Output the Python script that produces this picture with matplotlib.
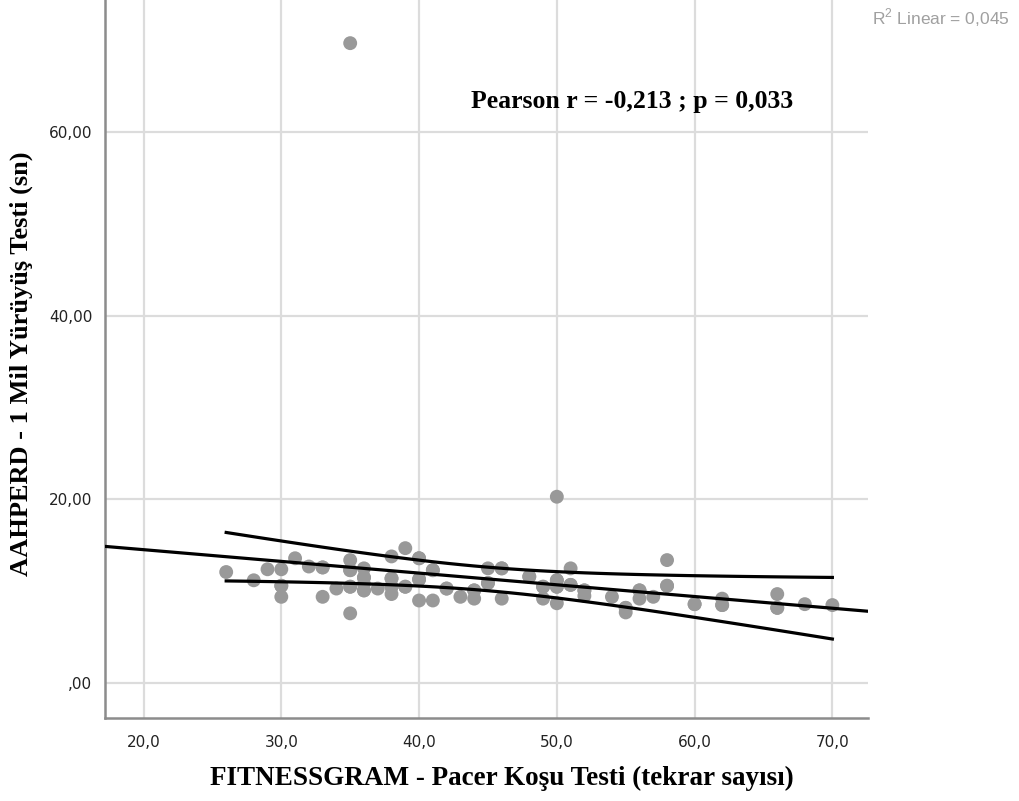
import numpy as np
import matplotlib
matplotlib.use("Agg")
import matplotlib.pyplot as plt

plt.rcParams["mathtext.fontset"] = "custom"
plt.rcParams["mathtext.rm"] = "Liberation Sans"

# pacer laps (x) and 1 mile walk time (y)
# (many cases sit on top of each other, so some pairs repeat)
pacer = [26, 28, 29, 30, 30, 30, 31, 32, 33, 33, 34,
         35, 35, 35, 35, 35, 36, 36, 36, 36, 37,
         38, 38, 38, 38, 39, 39, 40, 40, 40, 41, 41, 42,
         43, 44, 44, 45, 45, 46, 46, 48, 49, 49,
         50, 50, 50, 50, 51, 51, 52, 52, 54, 55, 55,
         56, 56, 57, 58, 58, 60, 62, 62, 66, 66, 68, 70,
         30, 33, 35, 35, 36, 36, 38, 38, 39, 40, 40, 41, 42,
         44, 45, 46, 48, 49, 50, 50, 51, 52, 55, 56, 58, 60, 62, 66]
walk = [12.1, 11.2, 12.4, 12.4, 10.6, 9.4, 13.6, 12.7, 12.6, 9.4, 10.3,
        13.4, 12.3, 10.5, 7.6, 69.7, 12.5, 11.5, 10.8, 10.1, 10.3,
        13.8, 11.4, 10.5, 9.7, 14.7, 10.5, 13.6, 11.3, 9.0, 12.3, 9.0, 10.3,
        9.4, 10.1, 9.2, 12.5, 10.9, 12.5, 9.2, 11.6, 10.5, 9.2,
        11.2, 10.5, 8.7, 20.3, 12.5, 10.7, 10.1, 9.5, 9.4, 8.2, 7.7,
        10.1, 9.2, 9.4, 13.4, 10.6, 8.6, 9.2, 8.5, 9.7, 8.2, 8.6, 8.5,
        10.6, 12.6, 12.3, 10.5, 11.5, 10.1, 11.4, 10.5, 10.5, 11.3, 13.6, 12.3, 10.3,
        10.1, 10.9, 12.5, 11.6, 10.5, 11.2, 10.5, 10.7, 10.1, 8.2, 10.1, 10.6, 8.6, 8.5, 8.2]

x_ticks = [20, 30, 40, 50, 60, 70]
x_labels = ["20,0", "30,0", "40,0", "50,0", "60,0", "70,0"]
y_ticks = [0, 20, 40, 60]
y_labels = [",00", "20,00", "40,00", "60,00"]

x = np.array(pacer, dtype=float)
y = np.array(walk, dtype=float)
n = len(x)
slope, intercept = np.polyfit(x, y, 1)
resid = y - (slope * x + intercept)
s = np.sqrt(np.sum(resid ** 2) / (n - 2))
sxx = np.sum((x - x.mean()) ** 2)
t_crit = 1.99

fig = plt.figure(figsize=(10.19, 8.01), dpi=100)
ax = fig.add_axes([0.103, 0.1036, 0.749, 0.8964])

xmin, xmax = 17.2, 72.6
ax.set_xlim(xmin, xmax)
ax.set_ylim(-3.8, 74.4)

ax.grid(True, color="#dcdcdc", linewidth=1.6)
ax.set_axisbelow(True)

ax.scatter(x, y, s=100, color="#999999", edgecolors="none", zorder=3)

xf = np.linspace(xmin, xmax, 50)
ax.plot(xf, slope * xf + intercept, color="black", lw=2.3, zorder=4)

xc = np.linspace(x.min(), x.max(), 50)
yc = slope * xc + intercept
se = s * np.sqrt(1.0 / n + (xc - x.mean()) ** 2 / sxx)
ax.plot(xc, yc + t_crit * se, color="black", lw=2.3, zorder=4)
ax.plot(xc, yc - t_crit * se, color="black", lw=2.3, zorder=4)

for side in ["top", "right"]:
    ax.spines[side].set_visible(False)
for side in ["left", "bottom"]:
    ax.spines[side].set_color("#8c8c8c")
    ax.spines[side].set_linewidth(1.8)

ax.set_xticks(x_ticks)
ax.set_xticklabels(x_labels)
ax.set_yticks(y_ticks)
ax.set_yticklabels(y_labels)
ax.tick_params(length=0, labelsize=11, labelcolor="#222222")
ax.tick_params(axis="x", pad=12)
ax.tick_params(axis="y", pad=9)

serif = {"family": "Liberation Serif", "weight": "bold"}
ax.set_xlabel("FITNESSGRAM - Pacer Koşu Testi (tekrar sayısı)", fontdict=serif,
              fontsize=19.5, va="center")
ax.xaxis.set_label_coords(0.52, -0.0836)
ax.set_ylabel("AAHPERD - 1 Mil Yürüyüş Testi (sn)", fontdict=serif,
              fontsize=19, va="center")
ax.yaxis.set_label_coords(-0.109, 0.494)

ax.text(0.691, 0.858, "Pearson r = -0,213 ; p = 0,033", transform=ax.transAxes,
        ha="center", va="center", fontdict=serif, fontsize=18.5)

fig.text(0.991, 0.9775, r"R$^{2}$ Linear = 0,045", ha="right", va="center",
         fontsize=12.5, family="Liberation Sans", color="#a0a0a0")

plt.savefig("out.png", dpi=100)
